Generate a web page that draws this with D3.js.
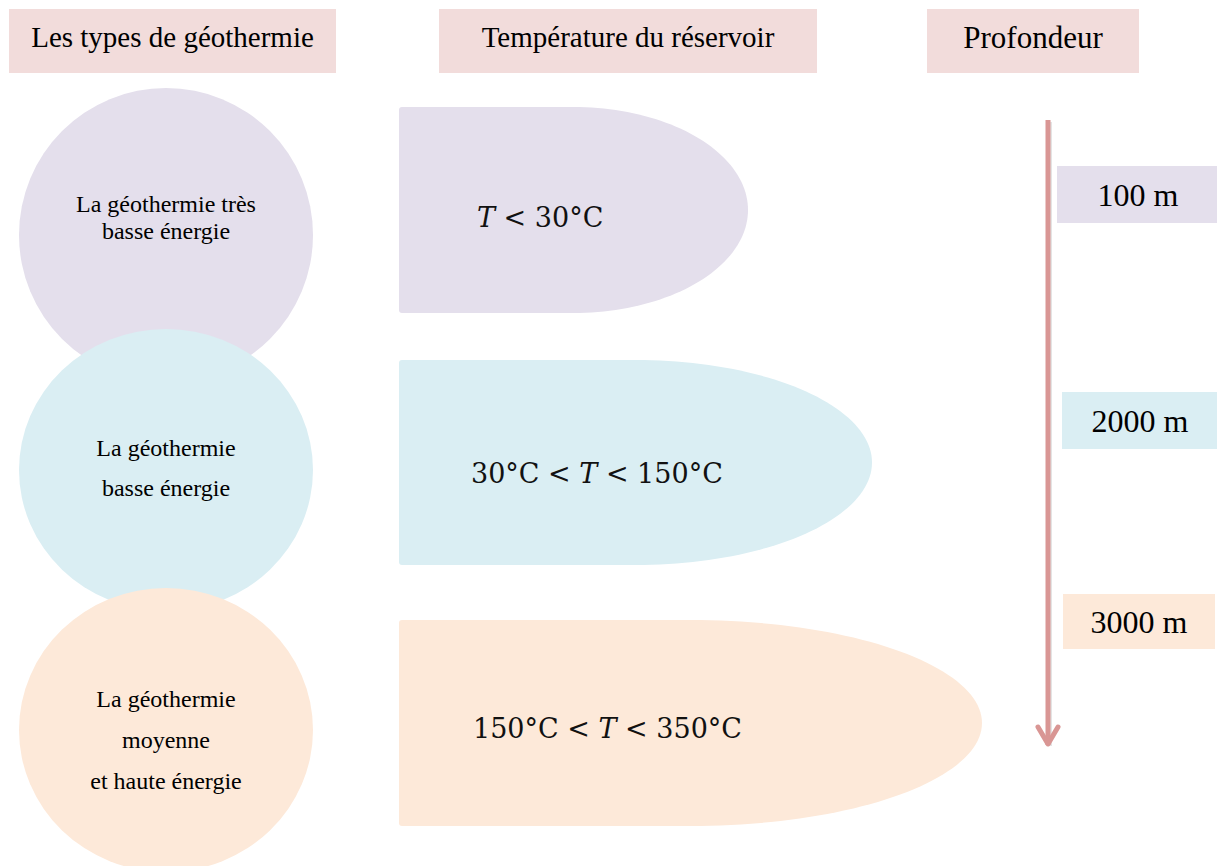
<!DOCTYPE html>
<html>
<head>
<meta charset="utf-8">
<script src="https://cdn.jsdelivr.net/npm/d3@7"></script>
<style>
  html, body { margin: 0; padding: 0; background: #ffffff; }
  svg { display: block; }
</style>
</head>
<body>
<svg id="chart" width="1225" height="866"></svg>
<script>
// ---- Data ----
const headers = ["Les types de géothermie", "Température du réservoir", "Profondeur"];
const typeLabels = [
  ["La géothermie très", "basse énergie"],
  ["La géothermie", "basse énergie"],
  ["La géothermie", "moyenne", "et haute énergie"]
];
const tempLabels = [
  [{t: "T", i: true}, {t: " < 30°C"}],
  [{t: "30°C < "}, {t: "T", i: true}, {t: " < 150°C"}],
  [{t: "150°C < "}, {t: "T", i: true}, {t: " < 350°C"}]
];
const depthLabels = ["100 m", "2000 m", "3000 m"];
const rowColors = ["#e4dfec", "#daeef3", "#fde9d9"];
const headerColor = "#f2dcdb";
const arrowColor = "#d99694";

// ---- Layout ----
const headerBoxes = [
  {x0: 9, x1: 336, size: 29, base: 47},
  {x0: 439, x1: 817, size: 29, base: 47},
  {x0: 927, x1: 1139, size: 31, base: 48}
];
const headerY = [9, 73];
const ellipses = [
  {cy: 235, ry: 147},
  {cy: 470, ry: 141},
  {cy: 730, ry: 142}
];
const circleCX = 166, circleRX = 147;
const circleLineBase = [[212, 239], [456, 496], [707, 748, 789]];
const shapes = [
  {x0: 399, x1: 748, y0: 107, y1: 313},
  {x0: 399, x1: 872, y0: 360, y1: 565},
  {x0: 399, x1: 982, y0: 620, y1: 826}
];
const tempTextPos = [{x: 477, y: 227}, {x: 471, y: 483}, {x: 473, y: 738}];
const depthBoxes = [
  {x0: 1057, x1: 1217, y0: 166, y1: 223, cx: 1138, base: 206},
  {x0: 1062, x1: 1217, y0: 392, y1: 449, cx: 1140, base: 432},
  {x0: 1063, x1: 1215, y0: 594, y1: 649, cx: 1139, base: 633}
];

const svg = d3.select("#chart");
const color = d3.scaleOrdinal().domain(d3.range(3)).range(rowColors);
const serif = "'Liberation Serif', 'Times New Roman', serif";

// Headers
const hg = svg.append("g");
hg.selectAll("rect").data(headers).join("rect")
  .attr("x", (d, i) => headerBoxes[i].x0)
  .attr("y", headerY[0])
  .attr("width", (d, i) => headerBoxes[i].x1 - headerBoxes[i].x0)
  .attr("height", headerY[1] - headerY[0])
  .attr("fill", headerColor);
hg.selectAll("text").data(headers).join("text")
  .attr("x", (d, i) => (headerBoxes[i].x0 + headerBoxes[i].x1) / 2)
  .attr("y", (d, i) => headerBoxes[i].base)
  .attr("text-anchor", "middle")
  .attr("font-family", serif)
  .attr("font-size", (d, i) => headerBoxes[i].size)
  .attr("fill", "#000")
  .text(d => d);

// Circles
const cg = svg.append("g");
cg.selectAll("ellipse").data(typeLabels).join("ellipse")
  .attr("cx", circleCX)
  .attr("cy", (d, i) => ellipses[i].cy)
  .attr("rx", circleRX)
  .attr("ry", (d, i) => ellipses[i].ry)
  .attr("fill", (d, i) => color(i));
const ctg = svg.append("g");
typeLabels.forEach((lines, i) => {
  ctg.selectAll(null).data(lines).join("text")
    .attr("x", circleCX)
    .attr("y", (d, j) => circleLineBase[i][j])
    .attr("text-anchor", "middle")
    .attr("font-family", serif)
    .attr("font-size", 24)
    .attr("fill", "#000")
    .text(d => d);
});

// Temperature shapes (flowchart "delay" shape)
function delayPath(s) {
  const w = s.x1 - s.x0, h = s.y1 - s.y0;
  const rx = w / 2, ry = h / 2, r = 3;
  const p = d3.path();
  p.moveTo(s.x0 + r, s.y0);
  p.lineTo(s.x0 + rx, s.y0);
  const steps = 90;
  for (let k = 1; k <= steps; k++) {
    const a = -Math.PI / 2 + Math.PI * k / steps;
    p.lineTo(s.x0 + rx + rx * Math.cos(a), s.y0 + ry + ry * Math.sin(a));
  }
  p.lineTo(s.x0 + r, s.y1);
  p.quadraticCurveTo(s.x0, s.y1, s.x0, s.y1 - r);
  p.lineTo(s.x0, s.y0 + r);
  p.quadraticCurveTo(s.x0, s.y0, s.x0 + r, s.y0);
  p.closePath();
  return p.toString();
}
const sg = svg.append("g");
sg.selectAll("path").data(shapes).join("path")
  .attr("d", d => delayPath(d))
  .attr("fill", (d, i) => color(i));
const tg = svg.append("g");
tempLabels.forEach((parts, i) => {
  const t = tg.append("text")
    .attr("x", tempTextPos[i].x)
    .attr("y", tempTextPos[i].y)
    .attr("font-family", "'DejaVu Serif', serif")
    .attr("font-size", 27)
    .attr("fill", "#111")
    .style("white-space", "pre");
  t.selectAll("tspan").data(parts).join("tspan")
    .attr("font-style", d => d.i ? "italic" : "normal")
    .text(d => d.t);
});

// Depth arrow
const ag = svg.append("g");
const arrowTop = 120, arrowTip = 748, arrowX = 1048;
ag.append("line")
  .attr("x1", arrowX + 1.5).attr("x2", arrowX + 1.5)
  .attr("y1", arrowTop + 2).attr("y2", arrowTip - 2)
  .attr("stroke", "#bbb").attr("stroke-opacity", 0.4).attr("stroke-width", 5);
ag.append("line")
  .attr("x1", arrowX).attr("x2", arrowX)
  .attr("y1", arrowTop).attr("y2", arrowTip - 3)
  .attr("stroke", arrowColor).attr("stroke-width", 5);
ag.append("path")
  .attr("d", d3.line()([[arrowX - 10, arrowTip - 21], [arrowX, arrowTip - 4], [arrowX + 10, arrowTip - 21]]))
  .attr("fill", "none")
  .attr("stroke", arrowColor).attr("stroke-width", 5)
  .attr("stroke-linecap", "round").attr("stroke-linejoin", "round");

// Depth boxes
const dg = svg.append("g");
dg.selectAll("rect").data(depthLabels).join("rect")
  .attr("x", (d, i) => depthBoxes[i].x0)
  .attr("y", (d, i) => depthBoxes[i].y0)
  .attr("width", (d, i) => depthBoxes[i].x1 - depthBoxes[i].x0)
  .attr("height", (d, i) => depthBoxes[i].y1 - depthBoxes[i].y0)
  .attr("fill", (d, i) => color(i));
dg.selectAll("text").data(depthLabels).join("text")
  .attr("x", (d, i) => depthBoxes[i].cx)
  .attr("y", (d, i) => depthBoxes[i].base)
  .attr("text-anchor", "middle")
  .attr("font-family", serif)
  .attr("font-size", 32)
  .attr("fill", "#000")
  .text(d => d);
</script>
</body>
</html>
